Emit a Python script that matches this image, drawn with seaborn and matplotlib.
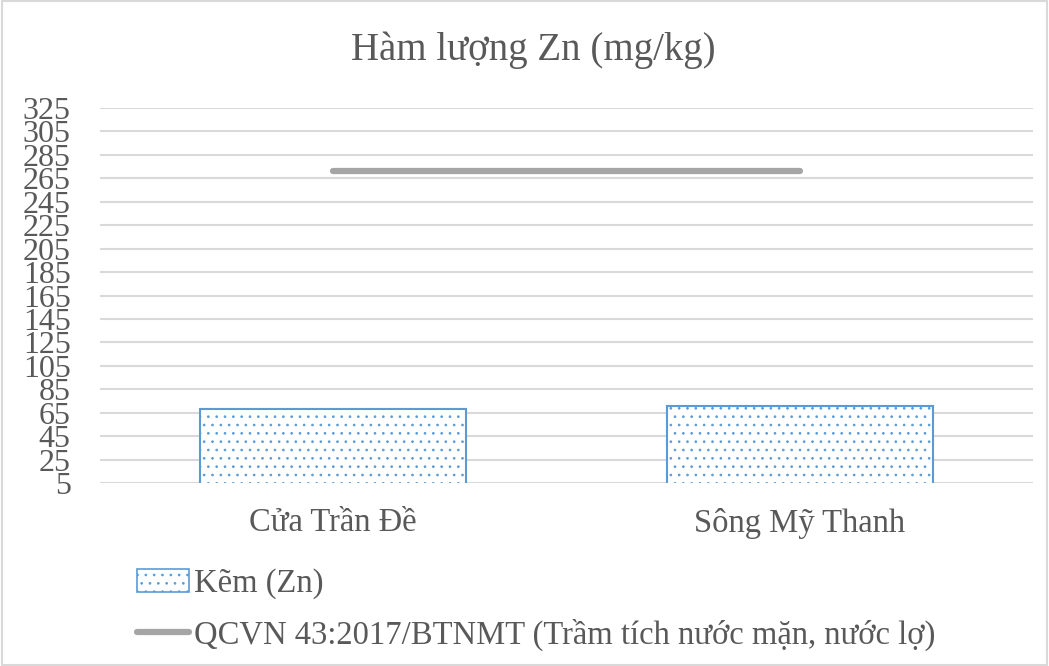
import matplotlib
matplotlib.use("Agg")
import matplotlib.pyplot as plt
import seaborn as sns
import pandas as pd
from matplotlib.patches import Rectangle
from matplotlib.lines import Line2D

# Dữ liệu
sites = ["Cửa Trần Đề", "Sông Mỹ Thanh"]
zn_values = [68.4, 70.3]
qcvn_limit = [271, 271]
y_ticks = list(range(5, 326, 20))

sns.set_theme(style="white")
plt.rcParams["font.family"] = ["Liberation Serif", "DejaVu Serif"]
plt.rcParams["hatch.linewidth"] = 0.7

text_color = "#595959"
blue = "#5b9bd5"
gray_line = "#a5a5a5"

fig = plt.figure(figsize=(10.49, 6.66), dpi=100)
ax = fig.add_axes([0.0953, 0.2748, 0.8894, 0.563])

df = pd.DataFrame({"site": sites, "value": zn_values})
sns.barplot(data=df, x="site", y="value", ax=ax, width=0.57,
            color="white", edgecolor=blue, linewidth=1.5, hatch="..")
for p in ax.patches:
    p.set_facecolor("white")
    p.set_edgecolor(blue)

ax.plot([0, 1], qcvn_limit, color=gray_line, linewidth=4.5,
        solid_capstyle="round", zorder=3)

ax.set_xlim(-0.5, 1.5)
ax.set_ylim(5, 325)
ax.set_yticks(y_ticks)
ax.set_yticklabels([str(t) for t in y_ticks], fontsize=23, color=text_color)
ax.tick_params(axis="y", length=0, pad=21)
ax.tick_params(axis="x", length=0, pad=18, labelsize=23.5, labelcolor=text_color)
ax.yaxis.grid(True, color="#d9d9d9", linewidth=1.5)
ax.set_axisbelow(True)
for s in ax.spines.values():
    s.set_visible(False)
ax.set_xlabel("")
ax.set_ylabel("")

fig.text(0.508, 0.925, "Hàm lượng Zn (mg/kg)", ha="center", va="center",
         fontsize=28, color=text_color)

handles = [
    Rectangle((0, 0), 1, 1, facecolor="white", edgecolor=blue, hatch="..", linewidth=1.2),
    Line2D([0], [0], color=gray_line, linewidth=4.5, solid_capstyle="round"),
]
labels = ["Kẽm (Zn)", "QCVN 43:2017/BTNMT (Trầm tích nước mặn, nước lợ)"]
fig.legend(handles, labels, loc="upper left", bbox_to_anchor=(0.118, 0.166),
           frameon=False, fontsize=23.5, labelcolor=text_color,
           handlelength=1.6, handleheight=0.7, handletextpad=0.15,
           labelspacing=0.6, borderaxespad=0)

# Khung viền của biểu đồ
fig.patches.append(Rectangle((0.002, 0.002), 0.996, 0.996, transform=fig.transFigure,
                             fill=False, edgecolor="#d9d9d9", linewidth=1.5))

fig.savefig("out.png", dpi=100)
